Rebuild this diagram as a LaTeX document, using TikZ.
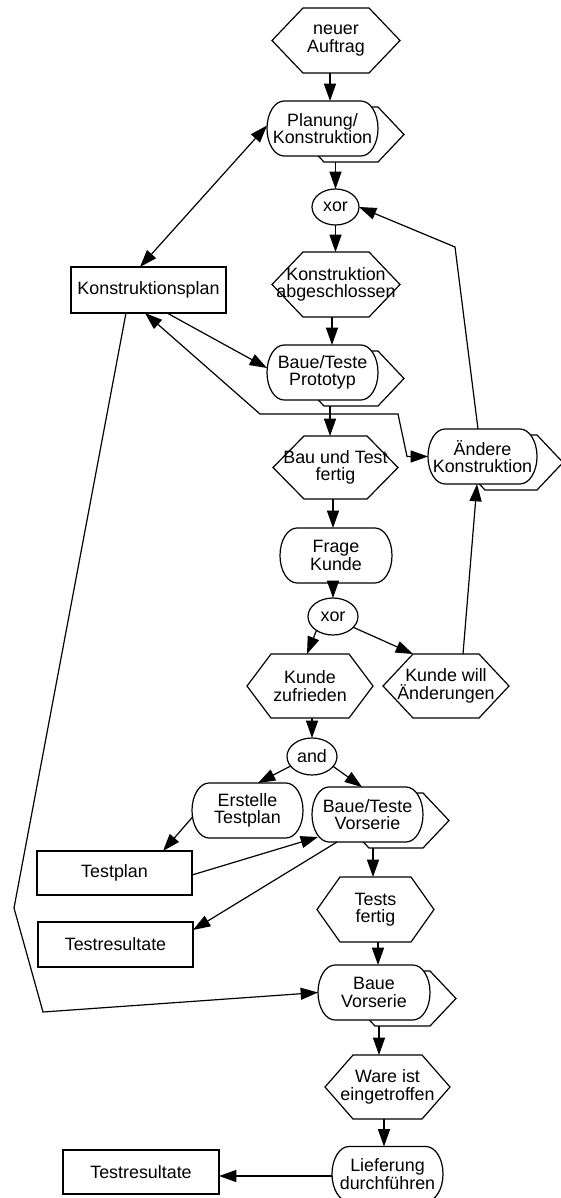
\documentclass[tikz,border=0pt]{standalone}
\usepackage{fontspec}
\setmainfont{Liberation Sans}
\usetikzlibrary{arrows.meta,calc,shapes.geometric,backgrounds}

% hexagon outline of an event node: #1 node name, #2 slant (px)
\newcommand\hexof[2]{%
  \draw[shapeline] (#1.west) -- ($(#1.north west)+(#2,0)$) -- ($(#1.north east)+(-#2,0)$)
    -- (#1.east) -- ($(#1.south east)+(-#2,0)$) -- ($(#1.south west)+(#2,0)$) -- cycle;}
% process-path tab behind a function node
\newcommand\backof[1]{%
  \filldraw[shapeline,fill=white] ($(#1.west)+(31,6)$) -- ($(#1.north west)+(57,6)$)
    -- ($(#1.north east)+(0,6)$) -- ($(#1.east)+(26,6)$) -- ($(#1.south east)+(0,6)$)
    -- ($(#1.south west)+(57,6)$) -- cycle;}
% box with elliptic ends around a function node
\newcommand\stadof[1]{%
  \filldraw[shapeline,fill=white] ($(#1.north west)+(17,0)$) -- ($(#1.north east)+(-17,0)$)
    arc[start angle=90,end angle=-90,x radius=12.75pt,y radius=20.625pt]
    -- ($(#1.south west)+(17,0)$)
    arc[start angle=270,end angle=90,x radius=12.75pt,y radius=20.625pt] -- cycle;}

\tikzset{
  every node/.style={font=\fontsize{13.4pt}{13pt}\selectfont, align=center,
    inner sep=0pt, outer sep=0pt},
  shapeline/.style={line width=0.9pt, line join=miter},
  evt/.style={rectangle, minimum width=93.75pt, minimum height=48pt},
  fn/.style={rectangle, minimum width=83.25pt, minimum height=41.25pt},
  gate/.style={ellipse, draw, line width=0.9pt, minimum width=37.5pt, minimum height=27.75pt},
  doc/.style={rectangle, draw, line width=0.9pt, minimum width=116.25pt, minimum height=34pt},
  arr/.style={-{Triangle[length=13pt,width=9pt]}, line width=0.9pt},
  arrboth/.style={{Triangle[length=13pt,width=9pt]}-{Triangle[length=13pt,width=9pt]}, line width=0.9pt},
}

\begin{document}
\begin{tikzpicture}[x=0.75pt,y=-0.75pt]
\useasboundingbox (0,0) rectangle (560,1198);

% events
\node[evt, minimum width=96pt, minimum height=48.75pt] (e1) at (336,40.5) {neuer\\Auftrag};
\node[evt, minimum width=96pt, minimum height=48.75pt] (e2) at (336,284.5) {Konstruktion\\abgeschlossen};
\node[evt, minimum height=47.25pt] (e3) at (335.5,467.5) {Bau und Test\\fertig};
\node[evt, minimum width=94.5pt] (e4) at (310,686) {Kunde\\zufrieden};
\node[evt, minimum width=94.5pt] (e5) at (446,686) {Kunde will\\Änderungen};
\node[evt, minimum width=87.75pt, minimum height=48.75pt] (e6) at (375.5,909.5) {Tests\\fertig};
\node[evt] (e7) at (387.5,1087) {Ware ist\\eingetroffen};

% functions
\node[fn] (f1) at (322.5,128.5) {Planung/\\Konstruktion};
\node[fn] (f2) at (322.5,372.5) {Baue/Teste\\Prototyp};
\node[fn, minimum width=81.75pt] (f3) at (482.5,456.5) {Ändere\\Konstruktion};
\node[fn, minimum width=84pt] (f4) at (336,555.5) {Frage\\Kunde};
\node[fn] (f5) at (247.5,810.5) {Erstelle\\Testplan};
\node[fn] (f6) at (367.5,814.5) {Baue/Teste\\Vorserie};
\node[fn, minimum width=84pt] (f7) at (374,992.5) {Baue\\Vorserie};
\node[fn] (f8) at (387.5,1174) {Lieferung\\durchführen};

% connectors (logical operators)
\node[gate, minimum width=35.25pt, minimum height=27pt] (x1) at (335.5,207) {xor};
\node[gate] (x2) at (333,616.5) {xor};
\node[gate] (a1) at (312,756.5) {and};

% information objects
\node[doc, minimum height=34.5pt] (d1) at (148.5,290) {Konstruktionsplan};
\node[doc, minimum height=33pt] (d2) at (114.5,873) {Testplan};
\node[doc, minimum height=33.75pt] (d3) at (115.5,944.5) {Testresultate};
\node[doc, minimum width=117pt, minimum height=33pt] (d4) at (141,1172) {Testresultate};

% outlines of events
\hexof{e1}{31}
\hexof{e2}{31}
\hexof{e3}{31}
\hexof{e4}{24}
\hexof{e5}{30}
\hexof{e6}{23}
\hexof{e7}{28}

% outlines of functions, kept beneath their texts
\begin{scope}[on background layer]
  \backof{f1}\stadof{f1}
  \backof{f2}\stadof{f2}
  \backof{f3}\stadof{f3}
  \stadof{f4}
  \stadof{f5}
  \backof{f6}\stadof{f6}
  \backof{f7}\stadof{f7}
  \stadof{f8}
\end{scope}

% bend points
\coordinate (b1) at (455,247);
\coordinate (b2) at (260,414);
\coordinate (b3) at (398,414);
\coordinate (b4) at (407,456.5);
\coordinate (b5) at (14,908);
\coordinate (b6) at (43,1012);

% control flow
\draw[arr] ($(e1.south)+(-6,0)$) -- ($(f1.north)+(7.5,0)$);
\draw[arr] ($(f1.south)+(13,6)$) -- (x1.north);
\draw[arr] (x1.south) -- ($(e2.north)+(-0.5,0)$);
\draw[arr] ($(e2.south)+(-4,0)$) -- ($(f2.north)+(9.5,0)$);
\draw[arr] ($(f2.south)+(7.5,6)$) -- ($(e3.north)+(-5.5,0)$);
\draw[arr] ($(e3.south)+(-2.5,0)$) -- ($(f4.north)+(-3,0)$);
\draw[arr] ($(f4.south)+(-3,0)$) -- (x2.north);
\draw[arr] (x2.220) -- ($(e4.north)+(-3,0)$);
\draw[arr] (x2.-28) -- ($(e5.north west)+(30,0)$);
\draw[arr] ($(e5.north)+(17,0)$) -- ($(f3.south)+(-5.5,0)$);
\draw[arr] ($(f3.north)+(-4.5,0)$) -- (b1) -- (x1.east);
\draw[arr] ($(e4.south)+(2,0)$) -- (a1.north);
\draw[arr] (a1.204) -- ($(f5.north)+(10.5,0)$);
\draw[arr] (a1.-25) -- ($(f6.north)+(-5.5,0)$);
\draw[arr] ($(f6.south)+(5.5,6)$) -- ($(e6.north)+(-2.5,0)$);
\draw[arr] ($(e6.south)+(2.5,0)$) -- ($(f7.north)+(4,0)$);
\draw[arr] ($(f7.south)+(5,6)$) -- ($(e7.north)+(-8.5,0)$);
\draw[arr] ($(e7.south)+(-3.5,0)$) -- ($(f8.north)+(-3.5,0)$);

% information flow
\draw[arrboth] ($(d1.north)+(-8.5,0)$) -- ($(f1.west)+(0,-3)$);
\draw[arr] ($(d1.south)+(18.5,0)$) -- ($(f2.west)+(0,-4.5)$);
\draw[arrboth] ($(d1.south)+(-3.5,0)$) -- (b2) -- (b3) -- (b4) -- (f3.west);
\draw[arr] ($(d1.south)+(-22.5,0)$) -- (b5) -- (b6) -- (f7.west);
\draw[arr] ($(f5.west)+(1,6)$) -- ($(d2.north)+(48.5,0)$);
\draw[arr] ($(d2.east)+(0,2)$) -- ($(f6.south west)+(6,-5)$);
\draw[arr] ($(f6.south)+(-30.5,0)$) -- ($(d3.north east)+(0,8)$);
\draw[arr] ($(f8.west)+(0,2)$) -- ($(d4.east)+(0,4)$);
\end{tikzpicture}
\end{document}
